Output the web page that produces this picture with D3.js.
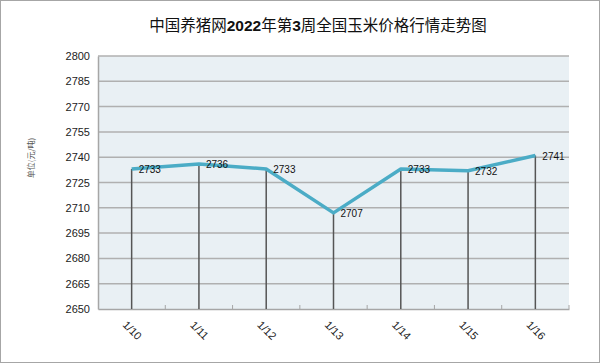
<!DOCTYPE html>
<html><head><meta charset="utf-8">
<script src="https://cdn.jsdelivr.net/npm/d3@7"></script>
<style>body{margin:0;background:#fff}svg{display:block}</style>
</head><body>
<script>
const categories = ["1/10","1/11","1/12","1/13","1/14","1/15","1/16"];
const values = [2733, 2736, 2733, 2707, 2733, 2732, 2741];
const yTicks = [2650,2665,2680,2695,2710,2725,2740,2755,2770,2785,2800];
const titleParts = [["中国养猪网",false],["2022",true],["年第",false],["3",true],["周全国玉米价格行情走势图",false]];
const yTitle = "单位(元/吨)";

const W = 600, H = 363;
const m = {l: 98, r: 31, t: 56, b: 54};
const svg = d3.select("body").append("svg").attr("width", W).attr("height", H);
svg.append("rect").attr("x",0.5).attr("y",0.5).attr("width",W-1).attr("height",H-1)
  .attr("fill","#fff").attr("stroke","#a6a6a6").attr("stroke-width",1);

const x = d3.scaleBand().domain(categories).range([m.l, W - m.r]).padding(0);
const y = d3.scaleLinear().domain([2650, 2800]).range([H - m.b, m.t]);
const cx = d => x(d) + x.bandwidth()/2;

const g = svg.append("g");
g.append("rect").attr("x", m.l).attr("y", m.t).attr("width", W - m.l - m.r).attr("height", H - m.t - m.b)
  .attr("fill", "#e9f0f4");

// gridlines
g.append("g").selectAll("line").data(yTicks.slice(1)).join("line")
  .attr("x1", m.l).attr("x2", W - m.r).attr("y1", d => y(d)).attr("y2", d => y(d))
  .attr("stroke", "#b0b0b0").attr("stroke-width", 1.5);

// y axis
const ya = g.append("g").attr("transform", `translate(${m.l},0)`)
  .call(d3.axisLeft(y).tickValues(yTicks).tickFormat(d3.format("d")).tickSize(0).tickPadding(8));
ya.select(".domain").attr("stroke", "#a6a6a6").attr("stroke-width", 1.5);
ya.selectAll("text").attr("font-family", "Liberation Sans, sans-serif").attr("font-size", 11).attr("fill", "#222");

// x axis
const xa = g.append("g").attr("transform", `translate(0,${H - m.b})`)
  .call(d3.axisBottom(x).tickSize(0).tickPadding(0));
xa.select(".domain").attr("stroke", "#a6a6a6").attr("stroke-width", 1.5);
xa.selectAll("text").remove();
// minor ticks at band boundaries
g.append("g").selectAll("line").data(categories.slice(1)).join("line")
  .attr("x1", d => x(d)).attr("x2", d => x(d)).attr("y1", H - m.b).attr("y2", H - m.b - 4)
  .attr("stroke", "#a6a6a6").attr("stroke-width", 1);
g.append("line").attr("x1", W - m.r).attr("x2", W - m.r).attr("y1", H - m.b).attr("y2", H - m.b - 4)
  .attr("stroke", "#a6a6a6").attr("stroke-width", 1);

// x labels
g.append("g").selectAll("text").data(categories).join("text")
  .attr("transform", d => `translate(${cx(d)},${H - m.b + 22}) rotate(45)`)
  .attr("text-anchor", "middle").attr("dominant-baseline", "middle")
  .attr("font-family", "Liberation Sans, sans-serif").attr("font-size", 11).attr("fill", "#222")
  .text(d => d);

// drop lines
g.append("g").selectAll("line").data(categories).join("line")
  .attr("x1", d => cx(d)).attr("x2", d => cx(d))
  .attr("y1", (d,i) => y(values[i])).attr("y2", H - m.b)
  .attr("stroke", "#555").attr("stroke-width", 1.5);

// line
const line = d3.line().x((d,i) => cx(categories[i])).y(d => y(d));
g.append("path").datum(values).attr("d", line).attr("fill", "none")
  .attr("stroke", "#4bacc6").attr("stroke-width", 3.5).attr("stroke-linejoin", "round");

// data labels
g.append("g").selectAll("text").data(values).join("text")
  .attr("x", (d,i) => cx(categories[i]) + 7).attr("y", d => y(d) + 4)
  .attr("font-family", "Liberation Sans, sans-serif").attr("font-size", 10).attr("fill", "#111")
  .text(d => d);

// title
const t = svg.append("text").attr("x", 318).attr("y", 31).attr("text-anchor", "middle")
  .attr("font-family", "Noto Sans CJK SC, sans-serif").attr("font-size", 15.5).attr("fill", "#111");
titleParts.forEach(([s, b]) => t.append("tspan").attr("font-weight", b ? "bold" : "normal")
  .attr("font-family", b ? "Liberation Sans, sans-serif" : "Noto Sans CJK SC, sans-serif").text(s));

// y title
svg.append("text").attr("transform", "translate(34,158) rotate(-90)").attr("text-anchor", "middle")
  .attr("font-family", "Noto Sans CJK SC, sans-serif").attr("font-size", 8).attr("fill", "#555")
  .text(yTitle);
</script>
</body></html>
